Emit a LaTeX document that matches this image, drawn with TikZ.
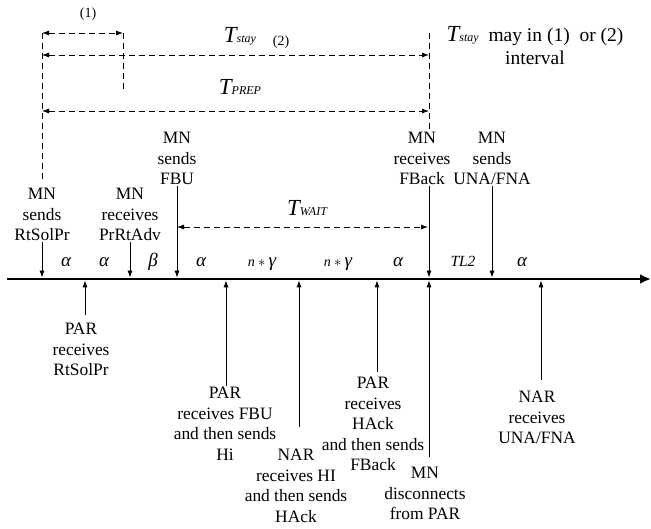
\documentclass[tikz,border=0pt]{standalone}
\usepackage{fontspec}
\setmainfont{Liberation Serif}
\usepackage{tikz}
\usetikzlibrary{arrows.meta}
\newcommand{\Tlab}[1]{{\fontsize{23}{23}\selectfont\itshape T}{\fontsize{12}{12}\selectfont\itshape #1}}
\newcommand{\ngam}{{\fontsize{14}{14}\selectfont\itshape n}\,{\fontsize{14}{14}\selectfont$*$}\,\textit{γ}}

\begin{document}
\begin{tikzpicture}[x=1pt, y=-1pt, >={Latex[length=7pt,width=5pt]},
    lbl/.style={font=\fontsize{17.4}{20.5}\selectfont, align=center, inner sep=1pt},
    sym/.style={font=\fontsize{19}{20}\selectfont\itshape, inner sep=0pt, anchor=base},
    tick/.style={->, line width=0.8pt, shorten >=1.4pt},
    dimline/.style={<->, line width=0.8pt, dash pattern=on 6pt off 4pt},
    guide/.style={line width=0.8pt, dash pattern=on 6pt off 4pt}]
    \useasboundingbox (0,0) rectangle (651,529);

    % --- time axis ---
    \coordinate (start) at (7,279);
    \coordinate (end) at (651,279);
    \draw[line width=2.8pt, -{Latex[length=11pt,width=10pt]}] (start) -- (end);
    \foreach \n/\x in {sr/42, pa/130, fbu/177, fba/429, una/492,
                       prs/85, phi/226, nhi/299, pha/377, dis/429, nuna/541}
        \coordinate (\n) at (\x,279);

    % --- events of MN (above the axis) ---
    \node[lbl, anchor=south] (mnRs) at (42,242) {MN\\sends\\RtSolPr};
    \node[lbl, anchor=south] (mnAdv) at (130,242) {MN\\receives\\PrRtAdv};
    \node[lbl, anchor=south] (mnFbu) at (177,186) {MN\\sends\\FBU};
    \node[lbl, anchor=south] (mnFback) at (422,186) {MN\\receives\\FBack};
    \node[lbl, anchor=south] (mnUna) at (492,186) {MN\\sends\\UNA/FNA};
    \draw[tick] (mnRs.south) -- (sr);
    \draw[tick] (mnAdv.south) -- (pa);
    \draw[tick] (mnFbu.south) -- (fbu);
    \draw[tick] (fba |- mnFback.south) -- (fba);
    \draw[tick] (mnUna.south) -- (una);

    % --- events of PAR / NAR (below the axis) ---
    \node[lbl, anchor=north] (parRs) at (81,322) {PAR\\receives\\RtSolPr};
    \node[lbl, anchor=north] (parHi) at (225,386) {PAR\\receives FBU\\and then sends\\Hi};
    \node[lbl, anchor=north] (narHi) at (296,448) {NAR\\receives HI\\and then sends\\HAck};
    \node[lbl, anchor=north] (parHa) at (373,376) {PAR\\receives\\HAck\\and then sends\\FBack};
    \node[lbl, anchor=north] (mnDis) at (425,466) {MN\\disconnects\\from PAR};
    \node[lbl, anchor=north] (narUna) at (537,390) {NAR\\receives\\UNA/FNA};
    \draw[tick, shorten <=7pt] (prs |- parRs.north) -- (prs);
    \draw[tick] (phi |- parHi.north) -- (phi);
    \draw[tick, shorten <=21pt] (nhi |- narHi.north) -- (nhi);
    \draw[tick, shorten <=4pt] (pha |- parHa.north) -- (pha);
    \draw[tick, shorten <=9pt] (dis |- mnDis.north) -- (dis);
    \draw[tick, shorten <=10pt] (nuna |- narUna.north) -- (nuna);

    % --- delays on the axis ---
    \foreach \x [count=\i] in {66, 104, 201, 398, 522}
        \node[sym] (al\i) at (\x,267) {α};
    \node[sym] (be) at (153,267) {β};
    \node[sym] (ga1) at (262,267) {\ngam};
    \node[sym] (ga2) at (338,267) {\ngam};
    \node[sym, font=\fontsize{15.5}{16}\selectfont\itshape] (tl) at (463,267) {TL2};

    % --- intervals ---
    \coordinate (g0) at (42,33);
    \coordinate (g1) at (123,33);
    \coordinate (g1b) at (123,90);
    \coordinate (g2) at (429,33);
    \coordinate (s0) at (42,55);
    \coordinate (s1) at (429,55);
    \coordinate (p0) at (42,111);
    \coordinate (p1) at (429,111);
    \coordinate (w0) at (177,227);
    \coordinate (w1) at (429,227);
    \draw[guide, shorten >=6pt] (g0) -- (mnRs.north);
    \draw[guide] (g1) -- (g1b);
    \draw[guide, shorten >=2pt] (g2) -- (fba |- mnFback.north);
    \draw[dimline] (g0) -- (g1);
    \draw[dimline] (s0) -- (s1);
    \draw[dimline] (p0) -- (p1);
    \draw[dimline, shorten >=1pt] (w0) -- (w1);

    \node[font=\fontsize{14}{14}\selectfont] (one) at (88,14) {(1)};
    \node[anchor=base] (tstay) at (240,43) {\Tlab{stay}};
    \node[anchor=base, font=\fontsize{14}{14}\selectfont] (two) at (281,46) {(2)};
    \node[anchor=base] (tprep) at (240,95) {\Tlab{PREP}};
    \node[anchor=base] (twait) at (307,216) {\Tlab{WAIT}};
    \node[anchor=north, align=center, inner sep=1pt, font=\fontsize{19.5}{23.5}\selectfont]
        (note) at (535,25) {\Tlab{stay}\ \ may in (1)\ \ or (2)\\interval};
\end{tikzpicture}
\end{document}
